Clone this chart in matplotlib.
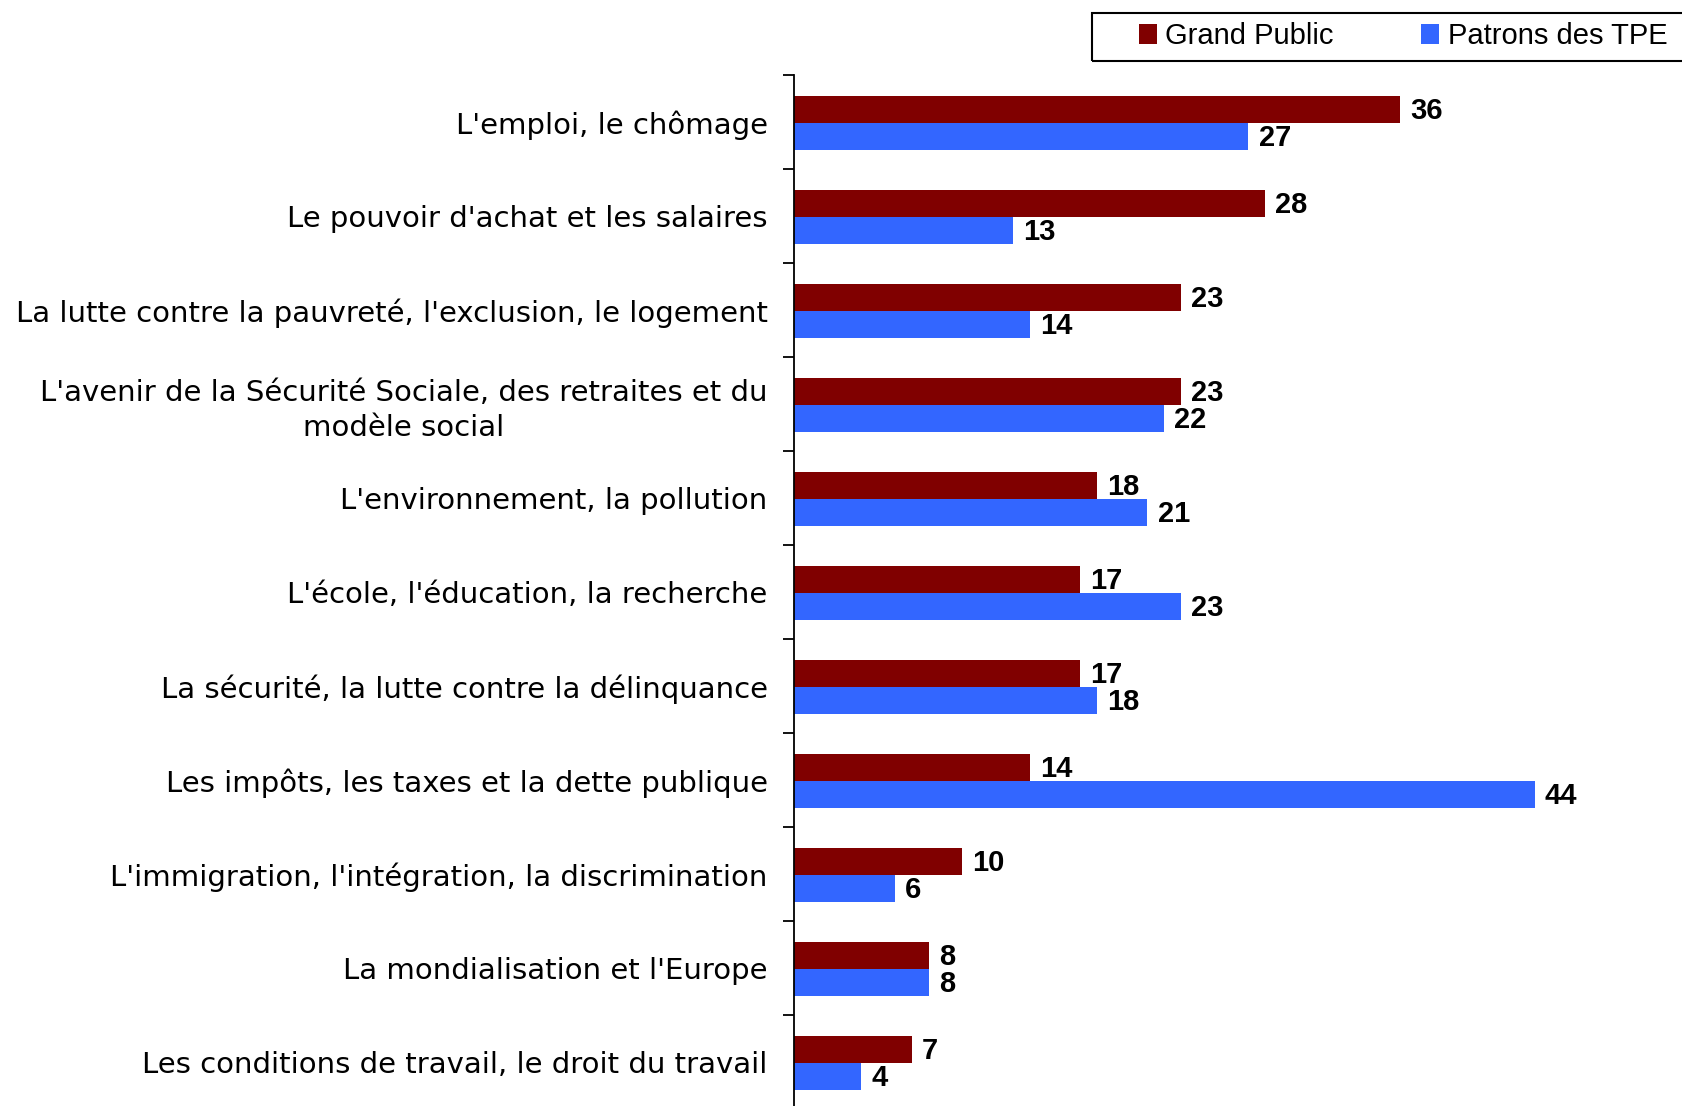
import matplotlib.pyplot as plt
from matplotlib.patches import Rectangle

categories = [
    "L'emploi, le chômage",
    "Le pouvoir d'achat et les salaires",
    "La lutte contre la pauvreté, l'exclusion, le logement",
    "L'avenir de la Sécurité Sociale, des retraites et du\nmodèle social",
    "L'environnement, la pollution",
    "L'école, l'éducation, la recherche",
    "La sécurité, la lutte contre la délinquance",
    "Les impôts, les taxes et la dette publique",
    "L'immigration, l'intégration, la discrimination",
    "La mondialisation et l'Europe",
    "Les conditions de travail, le droit du travail",
]
grand_public = [36, 28, 23, 23, 18, 17, 17, 14, 10, 8, 7]
patrons_tpe = [27, 13, 14, 22, 21, 23, 18, 44, 6, 8, 4]
series_names = ["Grand Public", "Patrons des TPE"]

RED = "#800000"
BLUE = "#3366FF"

W, H = 1682, 1106
fig = plt.figure(figsize=(W / 100, H / 100), dpi=100)
ax = fig.add_axes([794 / W, -3 / H, 1 - 794 / W, (1106 - 75 + 3) / H])

ys = list(range(len(categories)))
bh = 0.29
red_y = [y - bh / 2 + 0.01 for y in ys]
blue_y = [y + bh / 2 + 0.01 for y in ys]
r1 = ax.barh(red_y, grand_public, height=bh, color=RED, label=series_names[0])
r2 = ax.barh(blue_y, patrons_tpe, height=bh, color=BLUE, label=series_names[1])

for bars, vals in ((r1, grand_public), (r2, patrons_tpe)):
    for b, v in zip(bars, vals):
        ax.text(v + 0.6, b.get_y() + b.get_height() / 2 + 0.02, str(v),
                ha="left", va="center", fontsize=21, fontweight="bold",
                family="Liberation Sans")

ax.set_xlim(0, (W - 794) / 16.83)
ax.set_ylim(len(categories) - 0.5, -0.5)

ax.set_yticks(ys)
ax.set_yticklabels(categories, fontsize=21, family="DejaVu Sans",
                   multialignment="center", linespacing=1.3)
ax.tick_params(axis="y", which="major", length=0, pad=19)
ax.set_yticks([y + 0.5 for y in [-1] + ys], minor=True)
ax.tick_params(axis="y", which="minor", length=8, width=1.3)
ax.set_xticks([])

for s in ("top", "right", "bottom"):
    ax.spines[s].set_visible(False)
ax.spines["left"].set_linewidth(1.3)

# legend frame (cut by the right edge like the original)
fig.patches.append(Rectangle((1092 / W, 1 - 61 / H), (W - 1092 + 10) / W, 48 / H,
                             transform=fig.transFigure, fill=False,
                             edgecolor="black", linewidth=1.5))
fig.legend(handles=[r1, r2], loc="center left",
           bbox_to_anchor=(1139 / W, 1 - 36 / H), ncol=2, frameon=False,
           prop={"family": "Liberation Sans", "size": 21},
           handlelength=0.6, handleheight=0.7, handletextpad=0.3,
           columnspacing=3.0, borderpad=0, borderaxespad=0)

fig.savefig("out.png", dpi=100)
